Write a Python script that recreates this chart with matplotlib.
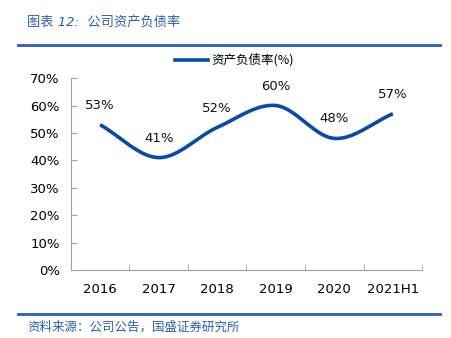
import numpy as np
import matplotlib.pyplot as plt
from matplotlib.lines import Line2D

plt.rcParams['font.family'] = ['DejaVu Sans', 'Noto Sans CJK SC']

years = ["2016", "2017", "2018", "2019", "2020", "2021H1"]
ratio = [53, 41, 52, 60, 48, 57]
yticks = [0, 10, 20, 30, 40, 50, 60, 70]

LINE_BLUE = "#0b4a9e"
HEAD_BLUE = "#2f5fa7"


def catmull_rom(x, y, n=40):
    # smooth curve through every point, like spreadsheet "smoothed line"
    x = np.asarray(x, float)
    y = np.asarray(y, float)
    px = np.concatenate([[2 * x[0] - x[1]], x, [2 * x[-1] - x[-2]]])
    py = np.concatenate([[2 * y[0] - y[1]], y, [2 * y[-1] - y[-2]]])
    xs, ys = [], []
    t = np.linspace(0, 1, n)
    for i in range(1, len(px) - 2):
        p0, p1, p2, p3 = px[i - 1:i + 3]
        q0, q1, q2, q3 = py[i - 1:i + 3]
        for a, b, c, d, out in ((p0, p1, p2, p3, xs), (q0, q1, q2, q3, ys)):
            out.append(0.5 * ((2 * b) + (-a + c) * t
                              + (2 * a - 5 * b + 4 * c - d) * t ** 2
                              + (-a + 3 * b - 3 * c + d) * t ** 3))
    return np.concatenate(xs), np.concatenate(ys)


fig = plt.figure(figsize=(4.51, 3.38), dpi=100)
ax = fig.add_axes([0.157, 0.201, 0.779, 0.568])

x = np.arange(len(years))
sx, sy = catmull_rom(x, ratio)
ax.plot(sx, sy, color=LINE_BLUE, lw=2.6, solid_capstyle="butt")

for xi, v in zip(x, ratio):
    ax.annotate(f"{v}%", (xi, v), xytext=(0, 14), textcoords="offset points",
                ha="center", va="center", fontsize=9.5, color="#111111")

ax.set_xlim(-0.5, len(years) - 0.5)
ax.set_ylim(0, 70)
ax.set_yticks(yticks)
ax.set_yticklabels([f"{t}%" for t in yticks], fontsize=9.5)
ax.set_xticks(x)
ax.set_xticklabels(years, fontsize=9.5)
ax.set_xticks(np.arange(len(years)) + 0.5, minor=True)
ax.tick_params(axis="x", which="major", length=0, pad=9)
ax.tick_params(axis="x", which="minor", length=4, direction="in", color="#a0a0a0")
ax.tick_params(axis="y", length=4, direction="in", color="#a0a0a0", pad=8)
for side in ("top", "right"):
    ax.spines[side].set_visible(False)
for side in ("left", "bottom"):
    ax.spines[side].set_color("#a0a0a0")
    ax.spines[side].set_linewidth(0.8)

handle = Line2D([], [], color=LINE_BLUE, lw=2.6)
fig.legend([handle], ["资产负债率(%)"], loc="center", bbox_to_anchor=(0.52, 0.822),
           frameon=False, handlelength=2.6, handletextpad=0.3,
           prop={"family": ["Noto Sans CJK SC"], "size": 9})

# header and footer
fig.text(0.06, 0.935, "图表 12:  公司资产负债率", color=HEAD_BLUE, fontsize=9.5,
         style="italic", ha="left", va="center",
         family=["DejaVu Sans", "Noto Sans CJK SC"])
fig.add_artist(Line2D([0.04, 0.976], [0.867, 0.867], color=HEAD_BLUE, lw=2))
fig.add_artist(Line2D([0.04, 0.976], [0.071, 0.071], color=HEAD_BLUE, lw=2))
fig.text(0.06, 0.033, "资料来源：公司公告，国盛证券研究所", color=HEAD_BLUE, fontsize=9,
         style="italic", ha="left", va="center", family=["Noto Sans CJK SC"])

fig.savefig("out.png", dpi=100)
